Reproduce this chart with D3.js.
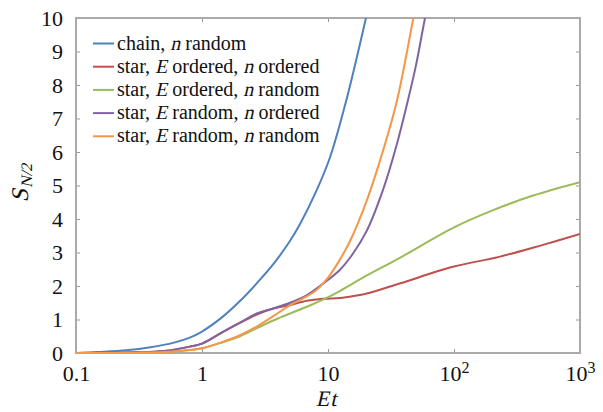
<!DOCTYPE html>
<html>
  <head>
    <meta charset="UTF-8">
    <style>
      body {
        margin: 0;
        background: white;
      }
      svg {
        display: block;
      }
    </style>
    <script type="text/javascript" src="https://cdn.jsdelivr.net/npm/d3@7"></script>
  </head>

  <body>
    <svg id="Chart"></svg>

    <script type="text/javascript">
      // values
      let chainT = [0.1, 0.15, 0.25, 0.39, 0.6, 0.8, 1, 1.48, 2, 2.72, 3.68, 5, 6, 8, 10.4, 14.1, 20.3, 25];
      let chainS = [0, 0.03, 0.08, 0.17, 0.31, 0.46, 0.64, 1.1, 1.55, 2.08, 2.65, 3.35, 3.85, 4.8, 5.85, 7.6, 10.1, 11.6];

      let redT = [0.1, 0.3, 0.5, 0.8, 1, 1.48, 2, 2.72, 3.68, 5, 6.8, 9.2, 12.4, 16, 21.5, 37.5, 100, 228, 500, 1000];
      let redS = [0, 0.02, 0.06, 0.19, 0.28, 0.64, 0.9, 1.15, 1.33, 1.43, 1.56, 1.62, 1.64, 1.7, 1.8, 2.08, 2.58, 2.87, 3.22, 3.55];

      let greenT = [0.1, 0.3, 0.5, 0.8, 1, 1.48, 2, 2.72, 3.68, 5, 6.8, 9.2, 12.4, 20, 37.5, 100, 200, 424, 1000];
      let greenS = [0, 0.01, 0.03, 0.09, 0.14, 0.33, 0.5, 0.74, 0.97, 1.18, 1.38, 1.6, 1.85, 2.3, 2.85, 3.75, 4.25, 4.7, 5.1];

      let purpleT = [0.1, 0.3, 0.5, 0.8, 1, 1.48, 2, 2.72, 3.68, 5, 6.8, 9.2, 12.4, 15, 20.3, 27.5, 35, 42.2, 50, 58.9, 70];
      let purpleS = [0, 0.02, 0.06, 0.19, 0.28, 0.64, 0.91, 1.18, 1.33, 1.5, 1.73, 2.08, 2.48, 2.85, 3.65, 4.9, 6.2, 7.4, 8.6, 10, 11.3];

      let orangeT = [0.1, 0.3, 0.5, 0.8, 1, 1.48, 2, 2.72, 3.68, 5, 6.5, 8.1, 10, 12.4, 15, 20.3, 25.9, 35.1, 47.6, 55];
      let orangeS = [0, 0.01, 0.03, 0.09, 0.14, 0.34, 0.53, 0.79, 1.1, 1.43, 1.65, 1.88, 2.25, 2.78, 3.35, 4.55, 5.75, 7.5, 10, 11.2];

      let xTicks = [0.1, 1, 10, 100, 1000];
      let xTickLabels = [["0.1", ""], ["1", ""], ["10", ""], ["10", "2"], ["10", "3"]];
      let yTicks = [0, 1, 2, 3, 4, 5, 6, 7, 8, 9, 10];

      let seriesNames = [
        [["chain, ", false], ["n", true], [" random", false]],
        [["star, ", false], ["E", true], [" ordered, ", false], ["n", true], [" ordered", false]],
        [["star, ", false], ["E", true], [" ordered, ", false], ["n", true], [" random", false]],
        [["star, ", false], ["E", true], [" random, ", false], ["n", true], [" ordered", false]],
        [["star, ", false], ["E", true], [" random, ", false], ["n", true], [" random", false]]
      ];
      let seriesColors = ['#4f81bd', '#c0504d', '#9bbb59', '#8064a2', '#f79646'];

      const FONT = '"Liberation Serif"';

      function getSeries() {
        let pairs = [[chainT, chainS], [redT, redS], [greenT, greenS], [purpleT, purpleS], [orangeT, orangeS]];
        return pairs.map((p, i) => ({
          name: seriesNames[i],
          color: seriesColors[i],
          points: p[0].map((t, j) => ({t: t, s: p[1][j]}))
        }));
      }

      // write text pieces one after another; italic pieces are slanted by hand
      // (no serif italic face is installed)
      function writePieces(parent, pieces, size, x, y) {
        let cursor = x;
        pieces.forEach(p => {
          let t = parent.append('text')
            .style('font-family', FONT)
            .style('white-space', 'pre')
            .attr('font-size', p.size || size)
            .attr('fill', '#111')
            .text(p.text);
          let dy = p.dy || 0;
          if (p.italic) {
            t.attr('transform', `translate(${cursor},${y + dy}) skewX(-13)`);
          } else {
            t.attr('x', cursor).attr('y', y + dy);
          }
          cursor += t.node().getComputedTextLength() + (p.gap || 0);
        });
        return cursor - x;
      }

      function getConfig() {
        let width = 603;
        let height = 412;
        let margin = {top: 18, bottom: 59, left: 76, right: 23};
        let bodyWidth = width - margin.left - margin.right;
        let bodyHeight = height - margin.top - margin.bottom;
        let container = d3.select('#Chart')
          .attr('width', width)
          .attr('height', height);
        return {width, height, margin, bodyWidth, bodyHeight, container};
      }

      function getScales(config) {
        let xScale = d3.scaleLog()
          .domain([0.1, 1000])
          .range([0, config.bodyWidth]);
        let yScale = d3.scaleLinear()
          .domain([0, 10])
          .range([config.bodyHeight, 0]);
        return {xScale, yScale};
      }

      function drawAxes(scales, config) {
        let {xScale, yScale} = scales;
        let {container, margin, bodyWidth, bodyHeight} = config;
        let body = container.append('g')
          .attr('transform', `translate(${margin.left},${margin.top})`);

        let bottom = body.append('g')
          .attr('transform', `translate(0,${bodyHeight})`)
          .call(d3.axisBottom(xScale).tickValues(xTicks).tickSize(-4).tickPadding(12).tickFormat(''));
        let top = body.append('g')
          .call(d3.axisTop(xScale).tickValues(xTicks).tickSize(-4).tickFormat(''));
        let left = body.append('g')
          .call(d3.axisLeft(yScale).tickValues(yTicks).tickSize(-4).tickPadding(13));
        let right = body.append('g')
          .attr('transform', `translate(${bodyWidth},0)`)
          .call(d3.axisRight(yScale).tickValues(yTicks).tickSize(-4).tickFormat(''));

        [bottom, top, left, right].forEach(a => {
          a.attr('font-family', null);
          a.select('.domain').remove();
          a.selectAll('.tick line').attr('stroke', '#999').attr('stroke-width', 1);
        });

        left.selectAll('.tick text')
          .style('font-family', FONT)
          .attr('font-size', 22)
          .attr('fill', '#111');

        // x labels with superscripts
        bottom.selectAll('.tick').each(function (d, i) {
          let label = xTickLabels[i];
          let text = d3.select(this).select('text')
            .text(null)
            .style('font-family', FONT)
            .attr('font-size', 22)
            .attr('fill', '#111');
          text.append('tspan').text(label[0]);
          if (label[1]) {
            text.append('tspan')
              .attr('dy', '-0.45em')
              .attr('font-size', 16)
              .text(label[1]);
          }
        });

        body.append('rect')
          .attr('width', bodyWidth)
          .attr('height', bodyHeight)
          .attr('fill', 'none')
          .attr('stroke', '#aaa')
          .attr('stroke-width', 2);

        return body;
      }

      function drawLines(series, scales, config, body) {
        let {xScale, yScale} = scales;
        body.append('clipPath')
          .attr('id', 'plotClip')
          .append('rect')
          .attr('width', config.bodyWidth)
          .attr('height', config.bodyHeight);

        let line = d3.line()
          .x(d => xScale(d.t))
          .y(d => yScale(d.s))
          .curve(d3.curveCatmullRom.alpha(0.5));

        body.append('g')
          .attr('clip-path', 'url(#plotClip)')
          .selectAll('path')
          .data(series)
          .enter()
          .append('path')
          .attr('d', d => line(d.points))
          .attr('fill', 'none')
          .attr('stroke', d => d.color)
          .attr('stroke-width', 2);
      }

      function drawLegend(series, config) {
        let legend = config.container.append('g')
          .attr('transform', 'translate(93,43.5)');
        series.forEach((s, i) => {
          let row = legend.append('g')
            .attr('transform', `translate(0,${i * 23.2})`);
          row.append('line')
            .attr('x1', 0)
            .attr('x2', 21)
            .attr('stroke', s.color)
            .attr('stroke-width', 2);
          let pieces = s.name.map(n => ({text: n[0], italic: n[1]}));
          writePieces(row, pieces, 20, 24, 6);
        });
      }

      function drawTitles(config) {
        let {container} = config;
        let xLabel = container.append('g');
        let w = writePieces(xLabel, [{text: 'E', italic: true, gap: 1}, {text: 't', italic: true}], 22, 0, 0);
        xLabel.attr('transform', `translate(${326 - w / 2},406)`);

        let yLabel = container.append('g');
        let h = writePieces(yLabel, [
          {text: 'S', italic: true, gap: 1},
          {text: 'N/2', italic: true, size: 16, dy: 4}
        ], 24, 0, 0);
        yLabel.attr('transform', `translate(28,${183 + h / 2}) rotate(-90)`);
      }

      function drawChart() {
        let series = getSeries();
        let config = getConfig();
        let scales = getScales(config);
        let body = drawAxes(scales, config);
        drawLines(series, scales, config, body);
        drawLegend(series, config);
        drawTitles(config);
      }

      drawChart();
    </script>
  </body>
</html>
